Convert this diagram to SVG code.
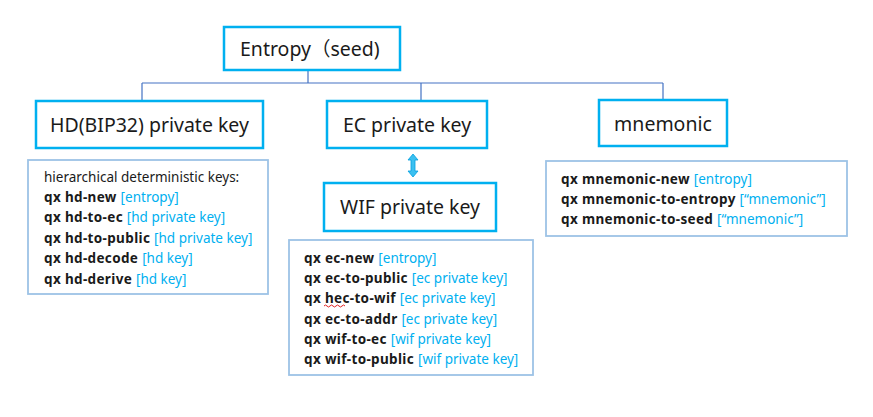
<svg xmlns="http://www.w3.org/2000/svg" width="873" height="417" viewBox="0 0 873 417">
<style>
.node{fill:#fff;stroke:#00B0F0;stroke-width:2.5}
.list{fill:#fff;stroke:#9DC3E6;stroke-width:1.8}
.title{font-family:"Noto Sans","Noto Sans CJK SC",sans-serif;font-size:19.5px;fill:#1a1a1a}
.t{font-family:"Noto Sans","Noto Sans CJK SC",sans-serif;font-size:13.5px;fill:#1a1a1a}
.b{font-weight:bold;letter-spacing:0.35px}
.a{fill:#00B0F0;font-weight:normal;letter-spacing:0}
.conn{stroke:#4472C4;stroke-width:1.2;fill:none}
</style>
<rect width="873" height="417" fill="#fff"/>
<g id="connectors">
<path class="conn" d="M308 70V83M142 83H663M142 83V101M421 83V101M663 83V100"/>
<path d="M413 154 L418 160 L415 160 L415 171 L418 171 L413 177 L408 171 L411 171 L411 160 L408 160 Z" fill="#3CC0F0" stroke="#00A0E0" stroke-width="0.8"/>
</g>
<g id="entropy">
<rect class="node" x="224" y="27" width="176" height="43"/>
<text class="title" x="240" y="56">Entropy（seed)</text>
</g>
<g id="hd">
<rect class="node" x="36" y="101" width="227" height="47"/>
<text class="title" x="149.5" y="132" text-anchor="middle">HD(BIP32) private key</text>
</g>
<g id="ec">
<rect class="node" x="327" y="101" width="160" height="47"/>
<text class="title" x="407" y="132" text-anchor="middle">EC private key</text>
</g>
<g id="mnemonic">
<rect class="node" x="599" y="100" width="128" height="46"/>
<text class="title" x="663" y="131" text-anchor="middle">mnemonic</text>
</g>
<g id="wif">
<rect class="node" x="324" y="183" width="172" height="48"/>
<text class="title" x="410" y="214" text-anchor="middle">WIF private key</text>
</g>
<g id="hd-list">
<rect class="list" x="28" y="160" width="240" height="134"/>
<text class="t" x="44" y="182">hierarchical deterministic keys:</text>
<text class="t b" x="44" y="202">qx hd-new <tspan class="a">[entropy]</tspan></text>
<text class="t b" x="44" y="222">qx hd-to-ec <tspan class="a">[hd private key]</tspan></text>
<text class="t b" x="44" y="243">qx hd-to-public <tspan class="a">[hd private key]</tspan></text>
<text class="t b" x="44" y="263">qx hd-decode <tspan class="a">[hd key]</tspan></text>
<text class="t b" x="44" y="284">qx hd-derive <tspan class="a">[hd key]</tspan></text>
</g>
<g id="ec-list">
<rect class="list" x="289" y="240" width="244" height="135"/>
<text class="t b" x="304" y="263">qx ec-new <tspan class="a">[entropy]</tspan></text>
<text class="t b" x="304" y="283">qx ec-to-public <tspan class="a">[ec private key]</tspan></text>
<text class="t b" x="304" y="303">qx hec-to-wif <tspan class="a">[ec private key]</tspan></text>
<path d="M324 306 q1.5 -2 3 0 t3 0 t3 0 t3 0 t3 0 t3 0 t3 0" fill="none" stroke="#E02020" stroke-width="1"/>
<text class="t b" x="304" y="324">qx ec-to-addr <tspan class="a">[ec private key]</tspan></text>
<text class="t b" x="304" y="344">qx wif-to-ec <tspan class="a">[wif private key]</tspan></text>
<text class="t b" x="304" y="364">qx wif-to-public <tspan class="a">[wif private key]</tspan></text>
</g>
<g id="mnemonic-list">
<rect class="list" x="546" y="161" width="301" height="75"/>
<text class="t b" x="561" y="184">qx mnemonic-new <tspan class="a">[entropy]</tspan></text>
<text class="t b" x="561" y="204">qx mnemonic-to-entropy <tspan class="a">[“mnemonic”]</tspan></text>
<text class="t b" x="561" y="224">qx mnemonic-to-seed <tspan class="a">[“mnemonic”]</tspan></text>
</g>
</svg>
